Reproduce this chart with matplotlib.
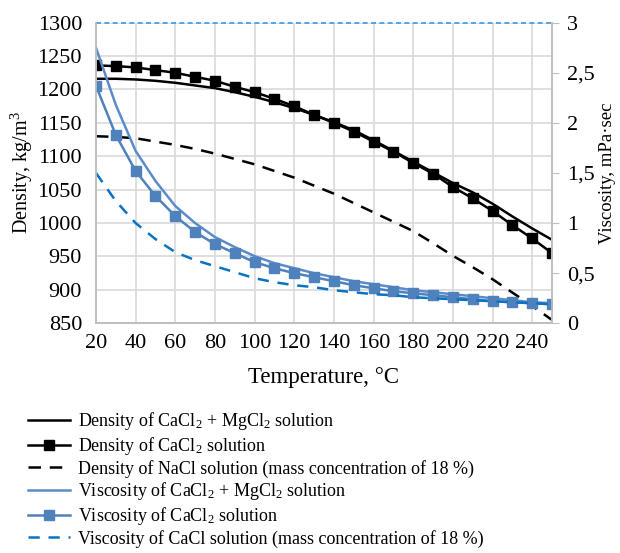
import matplotlib
matplotlib.use("Agg")
import matplotlib.pyplot as plt
from matplotlib.ticker import FuncFormatter, MultipleLocator

plt.rcParams['font.family'] = ['Liberation Serif', 'DejaVu Serif']
plt.rcParams['mathtext.fontset'] = 'custom'
plt.rcParams['mathtext.rm'] = 'Liberation Serif'
plt.rcParams['mathtext.it'] = 'Liberation Serif:italic'
plt.rcParams['mathtext.default'] = 'regular'

temperature = [20, 30, 40, 50, 60, 70, 80, 90, 100, 110, 120, 130, 140, 150,
               160, 170, 180, 190, 200, 210, 220, 230, 240, 250]

dens_cacl2_mgcl2 = [1216, 1216, 1215, 1213, 1210, 1206, 1202, 1196, 1189, 1181,
                    1172, 1162, 1151, 1139, 1124, 1108, 1092, 1076, 1060, 1046,
                    1029, 1010, 992, 975]
dens_cacl2 = [1236, 1235, 1233, 1229, 1225, 1219, 1213, 1204, 1196, 1186, 1175,
              1162, 1150, 1137, 1122, 1107, 1090, 1074, 1054, 1037, 1018, 997,
              977, 955]
dens_nacl = [1130, 1129, 1127, 1122, 1117, 1111, 1104, 1096, 1088, 1078, 1068,
             1056, 1044, 1030, 1016, 1002, 988, 970, 951, 934, 916, 896, 876, 855]

visc_cacl2_mgcl2 = [2.75, 2.18, 1.72, 1.42, 1.17, 1.00, 0.86, 0.76, 0.67, 0.60,
                    0.55, 0.50, 0.46, 0.42, 0.39, 0.36, 0.33, 0.31, 0.29, 0.27,
                    0.25, 0.23, 0.21, 0.20]
visc_cacl2 = [2.37, 1.88, 1.52, 1.27, 1.07, 0.91, 0.79, 0.70, 0.61, 0.55, 0.50,
              0.46, 0.42, 0.38, 0.35, 0.32, 0.30, 0.28, 0.26, 0.24, 0.22, 0.21,
              0.20, 0.19]
visc_cacl_18 = [1.50, 1.22, 1.00, 0.84, 0.71, 0.63, 0.57, 0.51, 0.45, 0.41, 0.38,
                0.36, 0.33, 0.31, 0.29, 0.28, 0.26, 0.25, 0.24, 0.23, 0.22, 0.21,
                0.20, 0.19]

labels = [
    "Density of CaCl$_2$ + MgCl$_2$ solution",
    "Density of CaCl$_2$ solution",
    "Density of NaCl solution (mass concentration of 18 %)",
    "Viscosity of CaCl$_2$ + MgCl$_2$ solution",
    "Viscosity of CaCl$_2$ solution",
    "Viscosity of CaCl solution (mass concentration of 18 %)",
]

BLUE = '#5B8CC8'
BLUE_SQ = '#4F81BD'
BLUE_D = '#0A72C2'
GRID = '#D9D9D9'

fig = plt.figure(figsize=(6.2, 5.53), dpi=100)
ax = fig.add_axes([0.1548, 0.4154, 0.8903 - 0.1548, 0.959 - 0.4154])
ax2 = ax.twinx()

l1, = ax.plot(temperature, dens_cacl2_mgcl2, color='black', lw=1.8)
l2, = ax.plot(temperature, dens_cacl2, color='black', lw=1.8, marker='s', ms=7.5)
l3, = ax.plot(temperature, dens_nacl, color='black', lw=1.8, ls=(0, (5, 3.5)))

l4, = ax2.plot(temperature, visc_cacl2_mgcl2, color=BLUE, lw=1.8)
l5, = ax2.plot(temperature, visc_cacl2, color=BLUE_SQ, lw=1.8, marker='s', ms=7.5)
l6, = ax2.plot(temperature, visc_cacl_18, color=BLUE_D, lw=1.8, ls=(0, (4.5, 3.5)))

ax2.axhline(3, color='#3A9AE0', lw=1.2, ls=(0, (3, 2)), clip_on=False)

ax.set_xlim(20, 250)
ax.set_ylim(850, 1300)
ax2.set_ylim(0, 3)
ax.set_xticks(list(range(20, 241, 20)))
ax.yaxis.set_major_locator(MultipleLocator(50))
ax2.yaxis.set_major_locator(MultipleLocator(0.5))
ax2.yaxis.set_major_formatter(FuncFormatter(lambda v, p: ('%g' % v).replace('.', ',')))

ax.grid(True, color=GRID, lw=1.2)
ax.set_axisbelow(True)
for a in (ax, ax2):
    a.spines['top'].set_visible(False)
    for s in ('left', 'right', 'bottom'):
        a.spines[s].set_color('#BFBFBF')
        a.spines[s].set_linewidth(1.2)

ax.tick_params(axis='y', length=0, labelsize=16, pad=10)
ax.tick_params(axis='x', length=0, labelsize=16, pad=8)
ax2.tick_params(axis='y', length=5, color='#BFBFBF', labelsize=16, pad=6)

ax.set_xlabel("Temperature, °C", fontsize=16.5, labelpad=10)
ax.set_ylabel("Density, kg/m$^3$", fontsize=14.5, labelpad=2)
ax2.set_ylabel("Viscosity, mPa·sec", fontsize=13.5, labelpad=3)

fig.legend([l1, l2, l3, l4, l5, l6], labels, loc='upper left',
           bbox_to_anchor=(0.045, 0.258), frameon=False, fontsize=13,
           handlelength=2.35, handletextpad=0.45, labelspacing=0.15,
           borderaxespad=0, borderpad=0, numpoints=1)

fig.savefig("out.png", dpi=100)
